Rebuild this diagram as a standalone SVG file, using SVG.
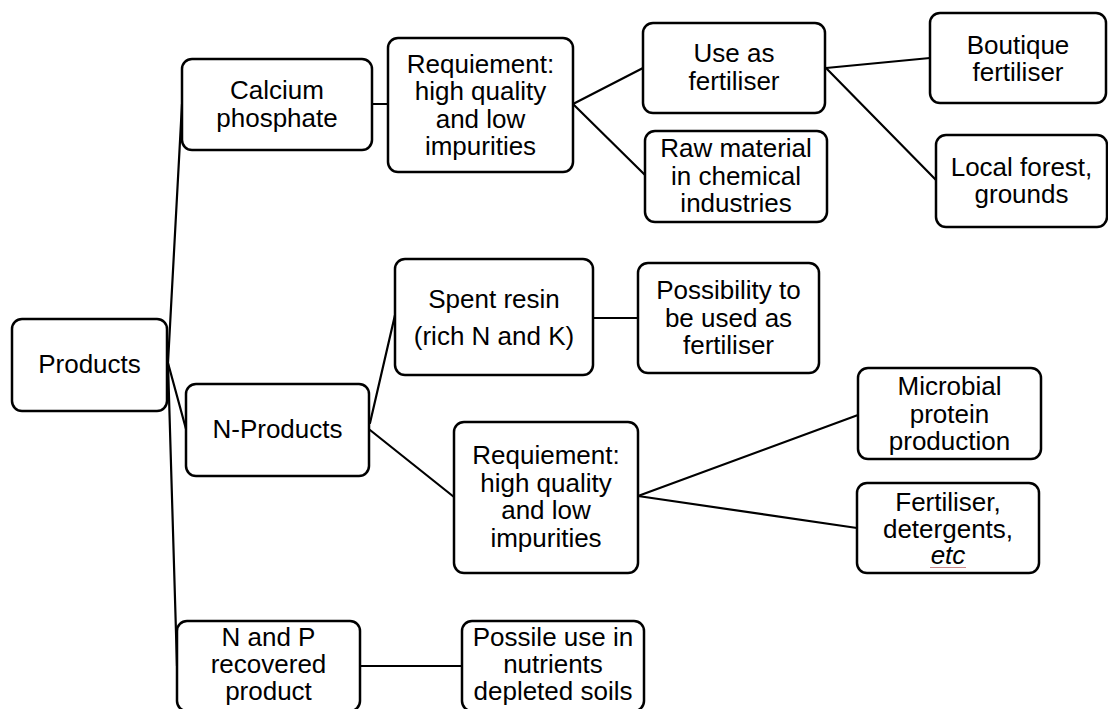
<svg xmlns="http://www.w3.org/2000/svg" width="1108" height="709" viewBox="0 0 1108 709">
  <style>
    .box { fill: #ffffff; stroke: #000000; stroke-width: 2.5; }
    .lbl { font-family: "Liberation Sans", Arial, sans-serif; font-size: 26px; fill: #000000; text-anchor: middle; }
    .conn { stroke: #000000; stroke-width: 2.2; fill: none; stroke-linecap: round; }
  </style>
  <rect width="1108" height="709" fill="#ffffff"/>

  <!-- connectors -->
  <g id="connectors">
    <line class="conn" x1="168" y1="363" x2="182" y2="104"/>
    <line class="conn" x1="168" y1="363" x2="186" y2="429"/>
    <line class="conn" x1="168" y1="363" x2="177" y2="666"/>
    <line class="conn" x1="372" y1="104" x2="388" y2="104"/>
    <line class="conn" x1="573" y1="104" x2="643" y2="68"/>
    <line class="conn" x1="573" y1="104" x2="645" y2="175"/>
    <line class="conn" x1="826" y1="68" x2="930" y2="58"/>
    <line class="conn" x1="826" y1="68" x2="936" y2="180"/>
    <line class="conn" x1="370" y1="423" x2="395" y2="315"/>
    <line class="conn" x1="370" y1="430" x2="454" y2="497"/>
    <line class="conn" x1="593" y1="318" x2="638" y2="318"/>
    <line class="conn" x1="638" y1="496" x2="858" y2="415"/>
    <line class="conn" x1="638" y1="496" x2="857" y2="528"/>
    <line class="conn" x1="360" y1="666" x2="462" y2="666"/>
  </g>

  <!-- nodes -->
  <g id="products">
    <rect class="box" x="12" y="319" width="155" height="92" rx="10"/>
    <text class="lbl" x="89.5" y="373">Products</text>
  </g>

  <g id="calcium-phosphate">
    <rect class="box" x="182" y="59" width="190" height="91" rx="10"/>
    <text class="lbl" x="277" y="99">Calcium</text>
    <text class="lbl" x="277" y="127">phosphate</text>
  </g>

  <g id="requirement-ca">
    <rect class="box" x="388" y="38" width="185" height="134" rx="10"/>
    <text class="lbl" x="480.5" y="72.5">Requiement:</text>
    <text class="lbl" x="480.5" y="100">high quality</text>
    <text class="lbl" x="480.5" y="127.5">and low</text>
    <text class="lbl" x="480.5" y="155">impurities</text>
  </g>

  <g id="use-as-fertiliser">
    <rect class="box" x="643" y="23" width="182" height="90" rx="10"/>
    <text class="lbl" x="734" y="62">Use as</text>
    <text class="lbl" x="734" y="90">fertiliser</text>
  </g>

  <g id="raw-material">
    <rect class="box" x="645" y="131" width="182" height="91" rx="10"/>
    <text class="lbl" x="736" y="157">Raw material</text>
    <text class="lbl" x="736" y="185">in chemical</text>
    <text class="lbl" x="736" y="212">industries</text>
  </g>

  <g id="boutique-fertiliser">
    <rect class="box" x="930" y="13" width="176" height="90" rx="10"/>
    <text class="lbl" x="1018" y="54">Boutique</text>
    <text class="lbl" x="1018" y="81">fertiliser</text>
  </g>

  <g id="local-forest">
    <rect class="box" x="936" y="135" width="171" height="92" rx="10"/>
    <text class="lbl" x="1021.5" y="176">Local forest,</text>
    <text class="lbl" x="1021.5" y="203">grounds</text>
  </g>

  <g id="n-products">
    <rect class="box" x="186" y="384" width="183" height="92" rx="10"/>
    <text class="lbl" x="277.5" y="438">N-Products</text>
  </g>

  <g id="spent-resin">
    <rect class="box" x="395" y="259" width="198" height="116" rx="10"/>
    <text class="lbl" x="494" y="308">Spent resin</text>
    <text class="lbl" x="494" y="345">(rich N and K)</text>
  </g>

  <g id="possibility-fertiliser">
    <rect class="box" x="638" y="263" width="181" height="110" rx="10"/>
    <text class="lbl" x="728.5" y="299">Possibility to</text>
    <text class="lbl" x="728.5" y="326.5">be used as</text>
    <text class="lbl" x="728.5" y="354">fertiliser</text>
  </g>

  <g id="requirement-n">
    <rect class="box" x="454" y="422" width="184" height="151" rx="10"/>
    <text class="lbl" x="546" y="464">Requiement:</text>
    <text class="lbl" x="546" y="491.5">high quality</text>
    <text class="lbl" x="546" y="519">and low</text>
    <text class="lbl" x="546" y="546.5">impurities</text>
  </g>

  <g id="microbial-protein">
    <rect class="box" x="858" y="368" width="183" height="91" rx="10"/>
    <text class="lbl" x="949.5" y="395">Microbial</text>
    <text class="lbl" x="949.5" y="423">protein</text>
    <text class="lbl" x="949.5" y="450">production</text>
  </g>

  <g id="fertiliser-detergents">
    <rect class="box" x="857" y="483" width="182" height="90" rx="10"/>
    <text class="lbl" x="948" y="511">Fertiliser,</text>
    <text class="lbl" x="948" y="538">detergents,</text>
    <text class="lbl" x="948" y="564" font-style="italic">etc</text>
    <line x1="930" y1="567.5" x2="966" y2="567.5" stroke="#c88" stroke-width="1"/>
  </g>

  <g id="n-and-p">
    <rect class="box" x="177" y="621" width="183" height="90" rx="10"/>
    <text class="lbl" x="268.5" y="646">N and P</text>
    <text class="lbl" x="268.5" y="673">recovered</text>
    <text class="lbl" x="268.5" y="700">product</text>
  </g>

  <g id="depleted-soils">
    <rect class="box" x="462" y="621" width="182" height="90" rx="10"/>
    <text class="lbl" x="553" y="646">Possile use in</text>
    <text class="lbl" x="553" y="673">nutrients</text>
    <text class="lbl" x="553" y="700">depleted soils</text>
  </g>
</svg>
